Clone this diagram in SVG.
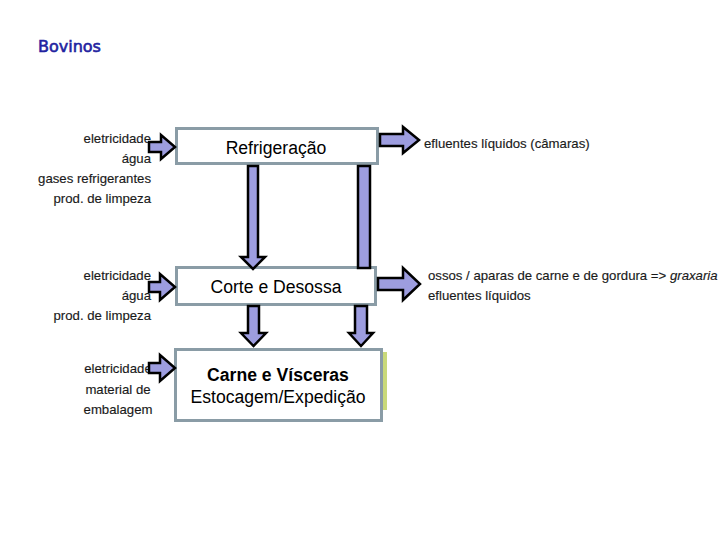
<svg xmlns="http://www.w3.org/2000/svg" width="720" height="540" viewBox="0 0 720 540">
<style>
.box{fill:#fff;stroke:#8a9ca6;stroke-width:3}
.arr{fill:#9d9ddf;stroke:#000;stroke-width:2.5;stroke-linejoin:miter}
.lab{font-family:"Liberation Sans",Arial,sans-serif;font-size:13.2px;fill:#1a1a1a;stroke:#1a1a1a;stroke-width:0.15}
.bt{font-family:"Liberation Sans",Arial,sans-serif;font-size:17.6px;fill:#000;text-anchor:middle}
</style>
<rect width="720" height="540" fill="#fff"/>
<text x="38" y="52" font-family="DejaVu Sans, sans-serif" font-size="16" fill="#2222a0" stroke="#2222a0" stroke-width="0.6">Bovinos</text>

<g id="labels-left">
<text class="lab" text-anchor="end" x="151" y="143">eletricidade</text>
<text class="lab" text-anchor="end" x="151" y="163">água</text>
<text class="lab" text-anchor="end" x="151" y="183">gases refrigerantes</text>
<text class="lab" text-anchor="end" x="151" y="203">prod. de limpeza</text>
<text class="lab" text-anchor="end" x="151" y="280">eletricidade</text>
<text class="lab" text-anchor="end" x="151" y="300">água</text>
<text class="lab" text-anchor="end" x="151" y="320">prod. de limpeza</text>
<text class="lab" text-anchor="middle" x="118" y="373">eletricidade</text>
<text class="lab" text-anchor="middle" x="118" y="394">material de</text>
<text class="lab" text-anchor="middle" x="118" y="414">embalagem</text>
</g>

<g id="labels-right">
<text class="lab" x="424" y="148">efluentes líquidos (câmaras)</text>
<text class="lab" x="428" y="280">ossos / aparas de carne e de gordura =&gt; <tspan font-style="italic">graxaria</tspan></text>
<text class="lab" x="428" y="300">efluentes líquidos</text>
</g>

<g id="node-refrigeracao">
<rect class="box" x="176.5" y="128.5" width="201" height="35"/>
<text class="bt" x="276" y="154">Refrigeração</text>
</g>
<g id="node-corte">
<rect class="box" x="176.5" y="267.5" width="199" height="37"/>
<text class="bt" x="276" y="293">Corte e Desossa</text>
</g>
<g id="node-carne">
<rect x="382" y="352" width="5" height="58" fill="#c9d97a"/>
<rect class="box" x="175.5" y="349.5" width="206" height="71"/>
<text class="bt" x="278" y="381" font-weight="bold">Carne e Vísceras</text>
<text class="bt" x="278" y="403">Estocagem/Expedição</text>
</g>

<g id="connectors">
<polygon class="arr" points="149,142 161,142 161,135 175,147 161,159 161,152 149,152"/>
<polygon class="arr" points="149,282 160,282 160,274 175,287 160,300 160,292 149,292"/>
<polygon class="arr" points="149,363 160,363 160,355 175,368 160,381 160,373 149,373"/>
<polygon class="arr" points="380,134 403,134 403,127 419,140 403,153 403,146 380,146"/>
<polygon class="arr" points="378,278 403,278 403,268 420,284 403,300 403,290 378,290"/>
<polygon class="arr" points="248,166 258,166 258,257 265,257 253,269 241,257 248,257"/>
<rect class="arr" x="358" y="166" width="12" height="102"/>
<polygon class="arr" points="248,306 259,306 259,333 266,333 253.5,346 241,333 248,333"/>
<polygon class="arr" points="355,306 367,306 367,333 373,333 361,346 349,333 355,333"/>
</g>
</svg>
